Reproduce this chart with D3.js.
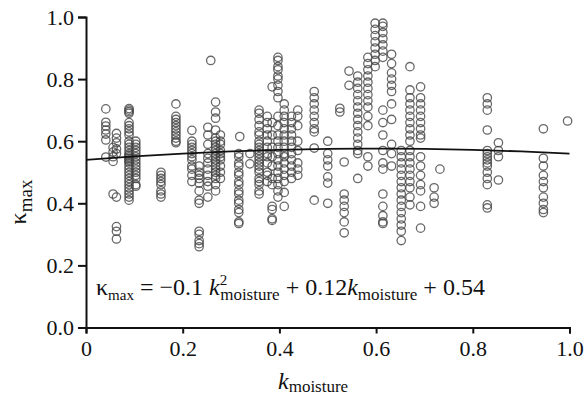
<!DOCTYPE html>
<html>
<head>
<meta charset="utf-8">
<script src="https://cdn.jsdelivr.net/npm/d3@7"></script>
<style>
  html, body { margin: 0; padding: 0; background: #fff; }
  #chart { width: 588px; height: 396px; }
  text { font-family: "Liberation Serif", "DejaVu Serif", serif; fill: #111; }
</style>
</head>
<body>
<div id="chart"></div>
<script>
// x positions of the measurement columns (k_moisture)
const columnX = [
  0.041, 0.056, 0.063, 0.089, 0.103, 0.155, 0.186, 0.219, 0.234, 0.252,
  0.258, 0.268, 0.278, 0.318, 0.316, 0.339, 0.358, 0.375, 0.385, 0.397,
  0.41, 0.425, 0.438, 0.472, 0.50, 0.525, 0.534, 0.544, 0.562, 0.583,
  0.598, 0.614, 0.632, 0.652, 0.67, 0.692, 0.72, 0.732, 0.83, 0.853,
  0.946, 0.996
];

// kappa_max values for each column
const columnY = [
  [0.704, 0.661, 0.649, 0.636, 0.623, 0.604, 0.549],
  [0.58, 0.565, 0.55, 0.535, 0.43],
  [0.625, 0.61, 0.595, 0.575, 0.56, 0.42, 0.325, 0.31, 0.285],
  [0.705, 0.70, 0.695, 0.69, 0.66, 0.65, 0.64, 0.63, 0.62, 0.60, 0.59, 0.58, 0.57, 0.56, 0.555, 0.55,
   0.545, 0.54, 0.535, 0.53, 0.52, 0.51, 0.50, 0.49, 0.48, 0.47, 0.46, 0.45, 0.44, 0.43, 0.42, 0.41],
  [0.60, 0.59, 0.58, 0.57, 0.56, 0.55, 0.54, 0.53, 0.52, 0.51, 0.50, 0.49, 0.48, 0.46, 0.455],
  [0.50, 0.49, 0.48, 0.47, 0.46, 0.44, 0.43, 0.42],
  [0.72, 0.68, 0.67, 0.66, 0.65, 0.64, 0.63, 0.62, 0.61, 0.60, 0.595],
  [0.635, 0.60, 0.59, 0.58, 0.57, 0.56, 0.55, 0.54, 0.52, 0.51, 0.49, 0.47],
  [0.52, 0.50, 0.49, 0.48, 0.465, 0.44, 0.41, 0.40, 0.31, 0.30, 0.28, 0.27, 0.26],
  [0.645, 0.62, 0.59, 0.56, 0.545, 0.53, 0.51, 0.49, 0.47, 0.455, 0.42],
  [0.86],
  [0.726, 0.694, 0.674, 0.636, 0.61, 0.60, 0.59, 0.58, 0.57, 0.56, 0.55, 0.54, 0.53, 0.52, 0.51, 0.50,
   0.49, 0.48, 0.46, 0.44],
  [0.62, 0.60, 0.59, 0.57, 0.56, 0.55, 0.54, 0.52, 0.50, 0.48],
  [0.615],
  [0.56, 0.55, 0.53, 0.52, 0.50, 0.49, 0.47, 0.46, 0.44, 0.43, 0.41, 0.40, 0.38, 0.37, 0.34, 0.335],
  [0.56, 0.527],
  [0.70, 0.69, 0.67, 0.65, 0.63, 0.62, 0.60, 0.59, 0.58, 0.57, 0.56, 0.55, 0.54, 0.53, 0.52, 0.51,
   0.50, 0.48, 0.47, 0.46, 0.44, 0.43],
  [0.68, 0.66, 0.64, 0.62, 0.60, 0.58, 0.56, 0.55, 0.53, 0.50, 0.49, 0.47],
  [0.775, 0.66, 0.62, 0.58, 0.55, 0.52, 0.48, 0.46, 0.39, 0.38, 0.35, 0.345],
  [0.87, 0.86, 0.84, 0.83, 0.81, 0.80, 0.78, 0.76, 0.74, 0.68, 0.65, 0.62, 0.60, 0.58, 0.56, 0.54,
   0.52, 0.50, 0.48, 0.46, 0.44, 0.42],
  [0.72, 0.70, 0.68, 0.66, 0.64, 0.62, 0.60, 0.58, 0.56, 0.55, 0.53, 0.51, 0.49, 0.47, 0.435, 0.39],
  [0.68, 0.66, 0.64, 0.62, 0.60, 0.58, 0.56, 0.54, 0.52, 0.50, 0.48],
  [0.70, 0.68, 0.65, 0.60, 0.57, 0.53, 0.51, 0.49],
  [0.76, 0.74, 0.72, 0.70, 0.68, 0.66, 0.64, 0.63, 0.578, 0.41],
  [0.60, 0.56, 0.54, 0.52, 0.485, 0.465, 0.40],
  [0.706, 0.694],
  [0.533, 0.43, 0.41, 0.39, 0.37, 0.34, 0.305],
  [0.826, 0.78],
  [0.81, 0.79, 0.77, 0.75, 0.73, 0.71, 0.69, 0.67, 0.65, 0.63, 0.61, 0.59, 0.57, 0.56, 0.48],
  [0.87, 0.85, 0.83, 0.81, 0.79, 0.77, 0.75, 0.73, 0.71, 0.68, 0.65, 0.55, 0.52],
  [0.98, 0.96, 0.94, 0.92, 0.90, 0.88, 0.86, 0.84],
  [0.98, 0.97, 0.95, 0.93, 0.91, 0.89, 0.87, 0.70, 0.66, 0.62, 0.57, 0.53, 0.51, 0.43, 0.39, 0.36,
   0.34, 0.335],
  [0.88, 0.85, 0.82, 0.80, 0.78, 0.76, 0.72, 0.67, 0.59, 0.56, 0.52],
  [0.57, 0.55, 0.53, 0.51, 0.49, 0.47, 0.45, 0.43, 0.41, 0.39, 0.37, 0.35, 0.33, 0.31, 0.28],
  [0.84, 0.765, 0.74, 0.72, 0.70, 0.68, 0.66, 0.64, 0.62, 0.60, 0.57, 0.55, 0.53, 0.51, 0.49, 0.47,
   0.45, 0.42, 0.395],
  [0.775, 0.74, 0.72, 0.70, 0.68, 0.66, 0.64, 0.62, 0.61, 0.55, 0.52, 0.49, 0.46, 0.44, 0.39, 0.32],
  [0.45, 0.42, 0.40],
  [0.51],
  [0.74, 0.72, 0.70, 0.636, 0.57, 0.56, 0.55, 0.54, 0.53, 0.52, 0.50, 0.48, 0.46, 0.395, 0.385],
  [0.595, 0.57, 0.55, 0.475],
  [0.64, 0.545, 0.52, 0.49, 0.47, 0.45, 0.42, 0.40, 0.38, 0.37],
  [0.665]
];

// fitted curve: kappa_max = a k^2 + b k + c
const fitCoef = [-0.1, 0.12, 0.54];
const fitK = [0, 0.1, 0.2, 0.3, 0.4, 0.5, 0.6, 0.7, 0.8, 0.9, 1.0];

const xTicks = [0, 0.2, 0.4, 0.6, 0.8, 1.0];
const xTickLabels = ['0', '0.2', '0.4', '0.6', '0.8', '1.0'];
const yTicks = [0, 0.2, 0.4, 0.6, 0.8, 1.0];
const yTickLabels = ['0.0', '0.2', '0.4', '0.6', '0.8', '1.0'];

function renderChart(container) {
  const margin = { top: 17, right: 18.5, bottom: 68.5, left: 86 };
  const width = 588;
  const height = 396;
  const innerWidth = width - margin.left - margin.right;
  const innerHeight = height - margin.top - margin.bottom;

  const svg = d3.select(container)
    .append('svg')
    .attr('width', width)
    .attr('height', height);

  const g = svg.append('g')
    .attr('transform', `translate(${margin.left},${margin.top})`);

  const xScale = d3.scaleLinear().domain([0, 1]).range([0, innerWidth]);
  const yScale = d3.scaleLinear().domain([0, 1]).range([innerHeight, 0]);

  // flatten columns into points
  const points = [];
  columnX.forEach((x, i) => {
    columnY[i].forEach(y => points.push({ x, y }));
  });

  g.append('g')
    .selectAll('circle')
    .data(points)
    .enter()
    .append('circle')
    .attr('cx', d => xScale(d.x))
    .attr('cy', d => yScale(d.y))
    .attr('r', 4.2)
    .attr('fill', 'none')
    .attr('stroke', '#444')
    .attr('stroke-opacity', 0.8)
    .attr('stroke-width', 1.3);

  // fit line
  const fitData = fitK.map(k => ({ k, v: fitCoef[0] * k * k + fitCoef[1] * k + fitCoef[2] }));
  g.append('path')
    .datum(fitData)
    .attr('fill', 'none')
    .attr('stroke', '#111')
    .attr('stroke-width', 1.8)
    .attr('d', d3.line().x(d => xScale(d.k)).y(d => yScale(d.v)).curve(d3.curveMonotoneX));

  // axes
  const xAxis = g.append('g')
    .attr('transform', `translate(0,${innerHeight})`)
    .call(d3.axisBottom(xScale)
      .tickValues(xTicks)
      .tickFormat((d, i) => xTickLabels[i])
      .tickSizeOuter(0)
      .tickSize(6)
      .tickPadding(7));

  const yAxis = g.append('g')
    .call(d3.axisLeft(yScale)
      .tickValues(yTicks)
      .tickFormat((d, i) => yTickLabels[i])
      .tickSizeOuter(0)
      .tickSize(8)
      .tickPadding(4));

  [xAxis, yAxis].forEach(ax => {
    ax.selectAll('line, path').attr('stroke', '#111').attr('stroke-width', 2);
    ax.selectAll('text')
      .style('font-family', '"Liberation Serif", serif')
      .style('font-size', '22px')
      .attr('fill', '#111');
  });
  xAxis.selectAll('text').attr('dy', '0.71em');

  // y label (rotated)
  const yLabel = svg.append('text')
    .attr('transform', 'translate(26,202) rotate(-90)')
    .attr('text-anchor', 'middle')
    .style('font-size', '24px');
  yLabel.append('tspan').text('κ');
  yLabel.append('tspan').attr('dy', 6).style('font-size', '19px').text('max');

  // x label
  const xLabel = svg.append('text')
    .attr('x', 278)
    .attr('y', 389)
    .style('font-size', '24px');
  xLabel.append('tspan').style('font-style', 'italic').text('k');
  xLabel.append('tspan').attr('dy', 3).style('font-size', '17px').text('moisture');

  // equation
  const eq = svg.append('text')
    .attr('x', 96)
    .attr('y', 295)
    .style('font-size', '24px');
  eq.append('tspan').text('κ');
  eq.append('tspan').attr('dy', 5).style('font-size', '15px').text('max');
  eq.append('tspan').attr('dy', -5).text(' = −0.1 ');
  eq.append('tspan').style('font-style', 'italic').text('k');
  eq.append('tspan').attr('dy', -10).style('font-size', '15px').text('2');
  eq.append('tspan').attr('dx', -7).attr('dy', 15).style('font-size', '17px').text('moisture');
  eq.append('tspan').attr('dy', -5).text(' + 0.12');
  eq.append('tspan').style('font-style', 'italic').text('k');
  eq.append('tspan').attr('dy', 5).style('font-size', '17px').text('moisture');
  eq.append('tspan').attr('dy', -5).text(' + 0.54');
}

renderChart(document.getElementById('chart'));
</script>
</body>
</html>
